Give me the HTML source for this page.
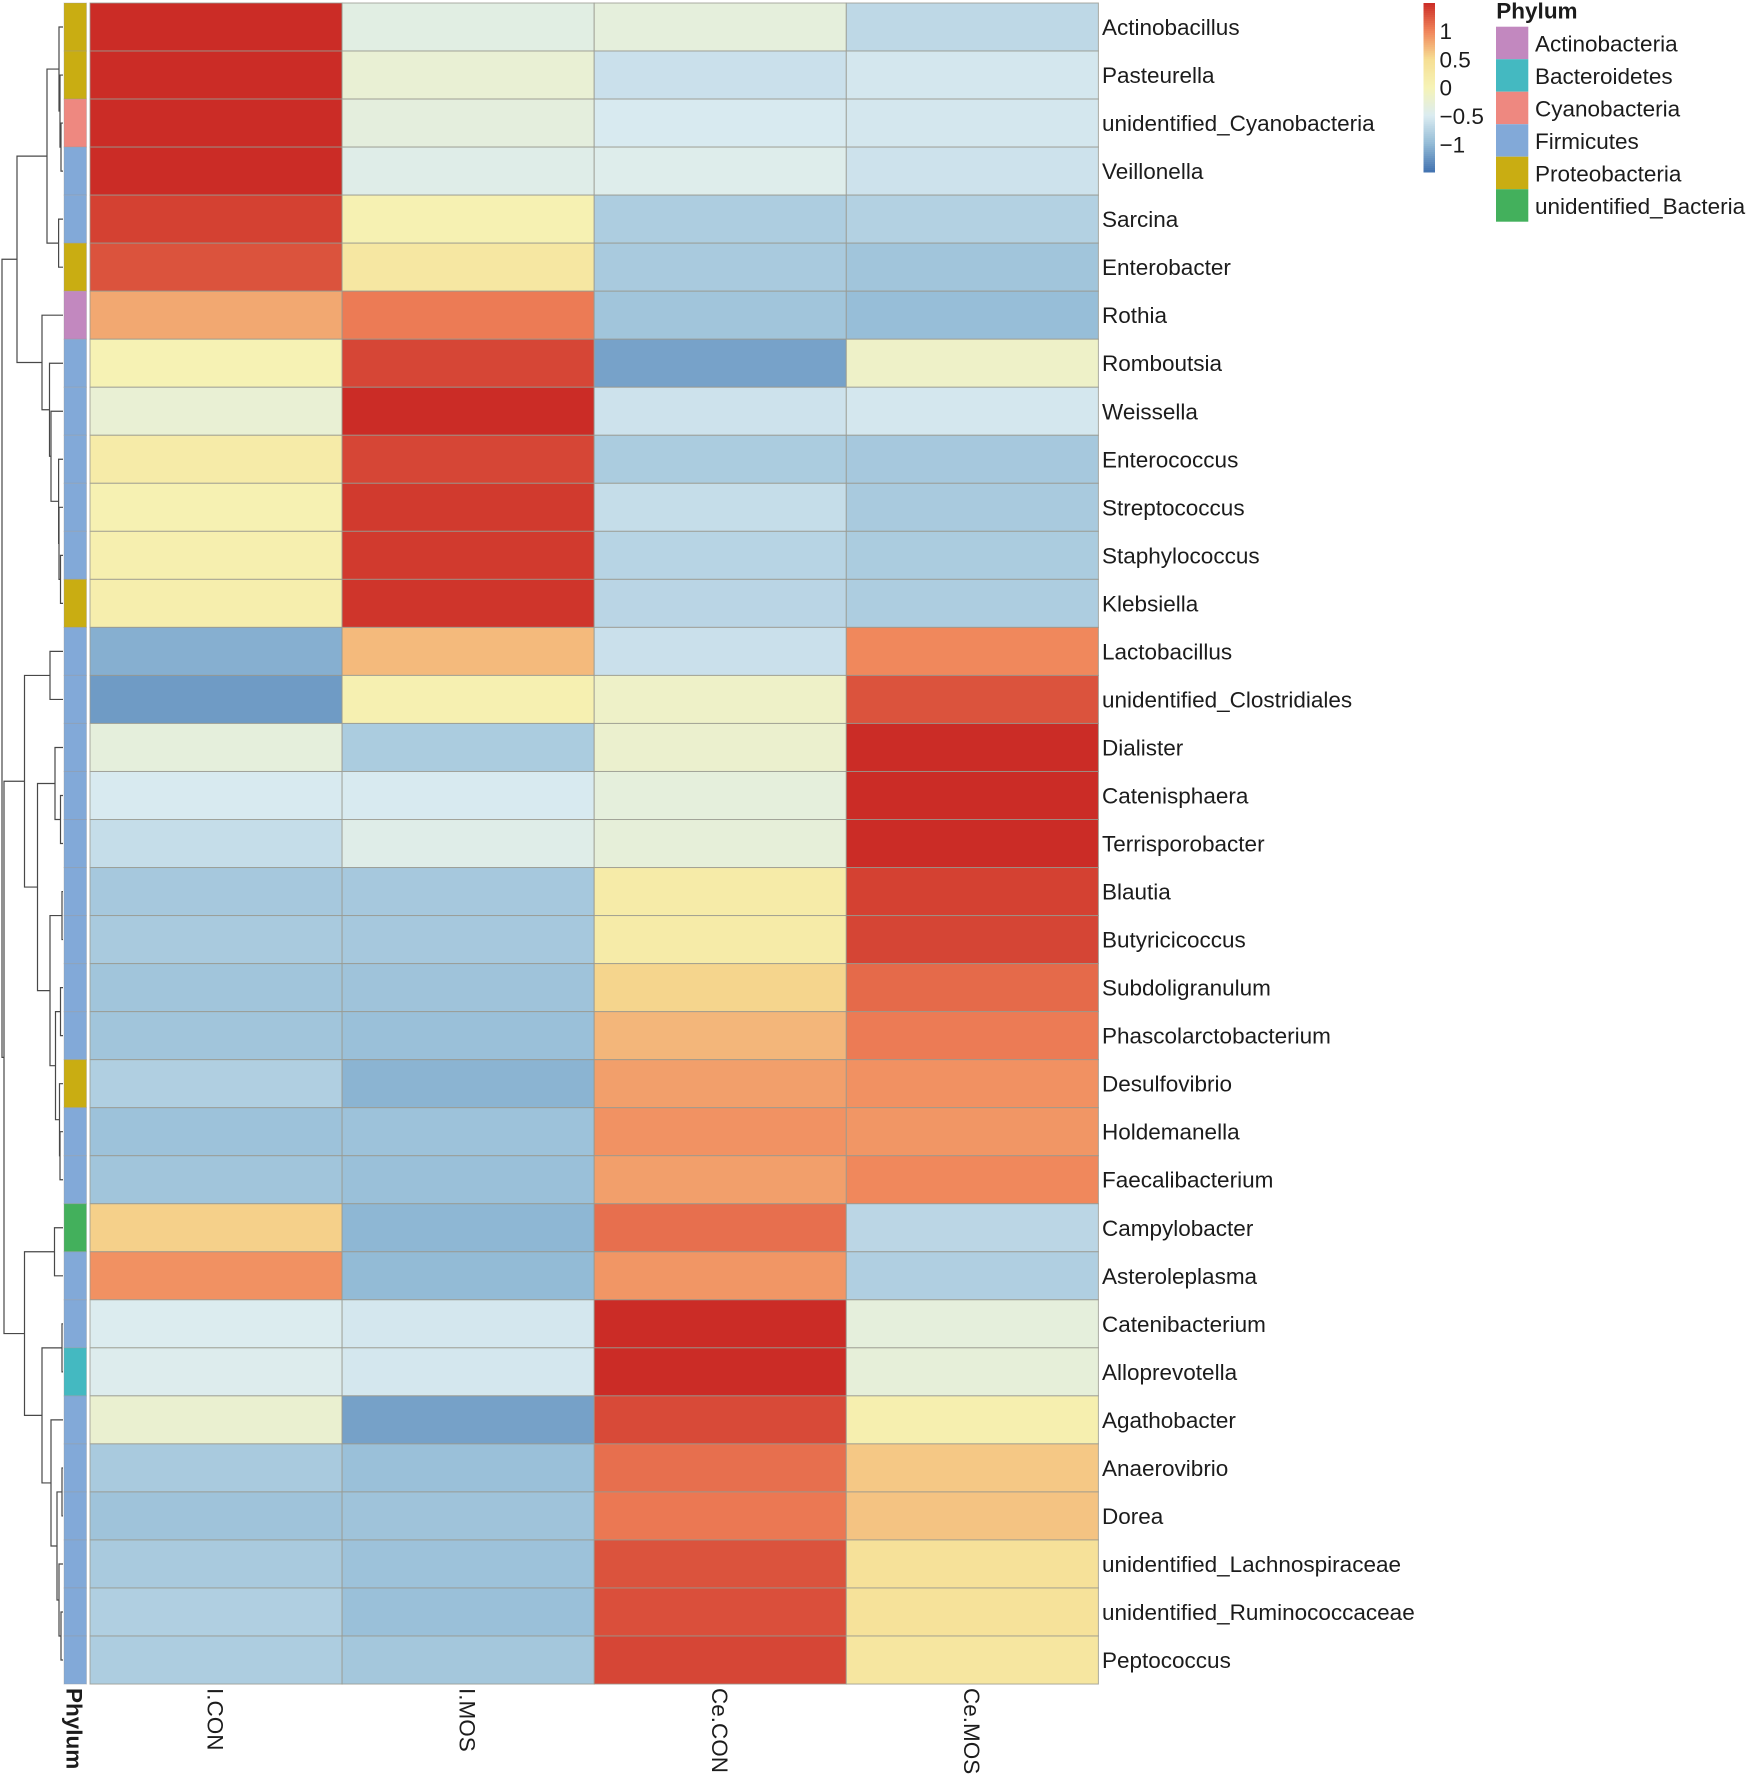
<!DOCTYPE html>
<html lang="en">
<head>
<meta charset="utf-8">
<title>Phylum heatmap</title>
<style>
html,body{margin:0;padding:0;background:#fff;}
svg{display:block;}
text{font-family:"Liberation Sans",Arial,sans-serif;font-size:22.5px;fill:#1c1c1c;}
</style>
</head>
<body>
<svg id="chart" xmlns="http://www.w3.org/2000/svg" width="1750" height="1777" viewBox="0 0 1750 1777"></svg>
<script>
const rowLabels = ["Actinobacillus","Pasteurella","unidentified_Cyanobacteria","Veillonella","Sarcina","Enterobacter","Rothia","Romboutsia","Weissella","Enterococcus","Streptococcus","Staphylococcus","Klebsiella","Lactobacillus","unidentified_Clostridiales","Dialister","Catenisphaera","Terrisporobacter","Blautia","Butyricicoccus","Subdoligranulum","Phascolarctobacterium","Desulfovibrio","Holdemanella","Faecalibacterium","Campylobacter","Asteroleplasma","Catenibacterium","Alloprevotella","Agathobacter","Anaerovibrio","Dorea","unidentified_Lachnospiraceae","unidentified_Ruminococcaceae","Peptococcus"];
const columnLabels = ["I.CON","I.MOS","Ce.CON","Ce.MOS"];
const iConValues = [1.5,1.5,1.5,1.5,1.38,1.28,0.8,0.03,-0.25,0.2,0.05,0.1,0.13,-1.08,-1.22,-0.32,-0.52,-0.65,-0.87,-0.85,-0.9,-0.9,-0.8,-0.93,-0.9,0.58,0.93,-0.48,-0.47,-0.22,-0.85,-0.92,-0.85,-0.8,-0.82];
const iMosValues = [-0.38,-0.25,-0.33,-0.42,0.05,0.28,1.05,1.35,1.5,1.35,1.42,1.42,1.45,0.7,0.07,-0.83,-0.52,-0.42,-0.87,-0.87,-0.92,-0.95,-1.05,-0.93,-0.95,-1.03,-1.0,-0.55,-0.55,-1.18,-0.95,-0.92,-0.93,-0.95,-0.88];
const ceConValues = [-0.32,-0.62,-0.52,-0.45,-0.82,-0.85,-0.9,-1.17,-0.6,-0.83,-0.65,-0.75,-0.73,-0.62,-0.15,-0.2,-0.32,-0.3,0.2,0.2,0.55,0.72,0.85,0.92,0.85,1.12,0.9,1.5,1.5,1.33,1.12,1.07,1.28,1.3,1.35];
const ceMosValues = [-0.7,-0.55,-0.55,-0.6,-0.78,-0.9,-0.97,-0.15,-0.55,-0.87,-0.85,-0.83,-0.82,0.98,1.28,1.5,1.5,1.5,1.38,1.36,1.15,1.05,0.93,0.9,0.98,-0.72,-0.8,-0.32,-0.3,0.1,0.62,0.65,0.42,0.4,0.32];
const seriesValues = [iConValues,iMosValues,ceConValues,ceMosValues];
const phylumNames = ["Actinobacteria","Bacteroidetes","Cyanobacteria","Firmicutes","Proteobacteria","unidentified_Bacteria"];
const phylumColors = ["#c288bf","#44b9c1","#ee8880","#82a9d8","#c9ad12","#43b05c"];
const rowPhylum = [4,4,2,3,3,4,0,3,3,3,3,3,4,3,3,3,3,3,3,3,3,3,4,3,3,5,3,3,1,3,3,3,3,3,3];
const colorTickValues = [1,0.5,0,-0.5,-1];
const colorTickLabels = ["1","0.5","0","\u22120.5","\u22121"];
const paletteStops = ["#4272B0","#93BBD6","#DBECF1","#F6F3B6","#F6DE93","#F0845A","#CB2C26"];
// Dendrogram: [mergeHeight, childA, childB]; an integer child is a row index.
const dendrogramTree = [3.05,
  [2.3,
    [0.8,
      [0.2, 0, [0.15, 1, [0.1, 2, 3]]],
      [0.22, 4, 5]],
    [1.05, 6,
      [0.675, 7,
        [0.6, 8,
          [0.22, 9,
            [0.2, 10,
              [0.125, 11, 12]]]]]]],
  [2.95,
    [1.925,
      [0.65, 13, 14],
      [1.275,
        [0.4, 15, [0.125, 16, 17]],
        [0.65,
          [0.05, 18, 19],
          [0.375,
            [0.125, 20, 21],
            [0.175, 22, [0.15, 23, 24]]]]]],
    [1.925,
      [0.425, 25, 26],
      [1.05,
        [0.05, 27, 28],
        [0.6, 29,
          [0.3,
            [0.05, 30, 31],
            [0.2, 32, [0.1, 33, 34]]]]]]]];

const svgNS = "http://www.w3.org/2000/svg";
const svg = document.getElementById("chart");
const heatLeft = 90, colWidth = 252.1, heatTop = 3, rowHeight = 48.03;
const annLeft = 64, annWidth = 22.5;
const dendroBase = 63, dendroUnit = 20;
const scaleMin = -1.5, scaleMax = 1.5;
const barX = 1423.5, barWidth = 11.5, barTop = 3, barBottom = 172;
const legendZeroY = 88.7, legendUnit = 56.9;

function xCol(c){ return heatLeft + c * colWidth; }
function yRow(r){ return heatTop + r * rowHeight; }
function xHeight(h){ return dendroBase - h * dendroUnit; }
function yLegend(v){ return legendZeroY - v * legendUnit; }
function hexToRgb(h){ return [1,3,5].map(function(i){ return parseInt(h.substr(i,2),16); }); }
function colorScale(v){
  const t = Math.max(0, Math.min(1, (v - scaleMin) / (scaleMax - scaleMin))) * (paletteStops.length - 1);
  const i = Math.min(paletteStops.length - 2, Math.floor(t));
  const a = hexToRgb(paletteStops[i]), b = hexToRgb(paletteStops[i + 1]);
  const f = t - i;
  return "rgb(" + a.map(function(x, k){ return Math.round(x + (b[k] - x) * f); }).join(",") + ")";
}
function make(tag, attrs, parent){
  const el = document.createElementNS(svgNS, tag);
  for (const k in attrs) el.setAttribute(k, attrs[k]);
  (parent || svg).appendChild(el);
  return el;
}

// Dendrogram
const dendroGroup = make("g", {fill:"none", stroke:"#484848", "stroke-width":"1.2"});


function drawNode(node){
  if (typeof node === "number") return {x: xHeight(0), y: yRow(node + 0.5)};
  const a = drawNode(node[1]), b = drawNode(node[2]);
  const x = xHeight(node[0]);
  const link = make("path", {d: "M" + a.x + " " + a.y + "H" + x + "V" + b.y + "H" + b.x}, dendroGroup);
  
  
  return {x: x, y: (a.y + b.y) / 2};
}
drawNode(dendrogramTree);

// Phylum annotation column
rowPhylum.forEach(function(p, r){
  const cell = make("rect", {x: annLeft, y: yRow(r), width: annWidth, height: rowHeight, fill: phylumColors[p], stroke: "#999", "stroke-opacity": "0.35", "stroke-width": "1"});
  
  
});

// Heatmap cells
seriesValues.forEach(function(values, c){
  values.forEach(function(v, r){
    const cell = make("rect", {x: xCol(c), y: yRow(r), width: colWidth, height: rowHeight, fill: colorScale(v), stroke: "#99998f", "stroke-opacity": "0.8", "stroke-width": "1"});
    
    
  });
});

// Row labels
rowLabels.forEach(function(name, r){
  const t = make("text", {x: 1102, y: yRow(r + 0.5) + 8});
  t.textContent = name;
  
  
});

// Column labels
columnLabels.forEach(function(name, c){
  const bx = xCol(c + 0.5) - 8.5;
  const t = make("text", {x: bx, y: 1688, transform: "rotate(90 " + bx + " 1688)"});
  t.textContent = name;
  
  
});
const phylumAxisTitle = make("text", {x: 66.5, y: 1688, transform: "rotate(90 66.5 1688)"});
phylumAxisTitle.style.fontWeight = "bold";
phylumAxisTitle.textContent = "Phylum";



// Colour bar
const barGroup = make("g", {});


const barSteps = 85;
for (let i = 0; i < barSteps; i++){
  const h = (barBottom - barTop) / barSteps;
  const v = scaleMax - (i + 0.5) / barSteps * (scaleMax - scaleMin);
  const seg = make("rect", {x: barX, y: barTop + i * h, width: barWidth, height: h + 0.5, fill: colorScale(v)}, barGroup);
  
  
}
colorTickValues.forEach(function(v, i){
  const t = make("text", {x: 1439.5, y: yLegend(v) + 7}, barGroup);
  t.textContent = colorTickLabels[i];
  
  
});

// Phylum legend
const legendTitle = make("text", {x: 1496.3, y: 18.5});
legendTitle.style.fontWeight = "bold";
legendTitle.textContent = "Phylum";


phylumNames.forEach(function(name, i){
  const y = 26.7 + i * 32.5;
  const sw = make("rect", {x: 1496, y: y, width: 32.3, height: 32.5, fill: phylumColors[i]});
  
  
  const t = make("text", {x: 1535, y: y + 24.7});
  t.textContent = name;
  
  
});
</script>
</body>
</html>
